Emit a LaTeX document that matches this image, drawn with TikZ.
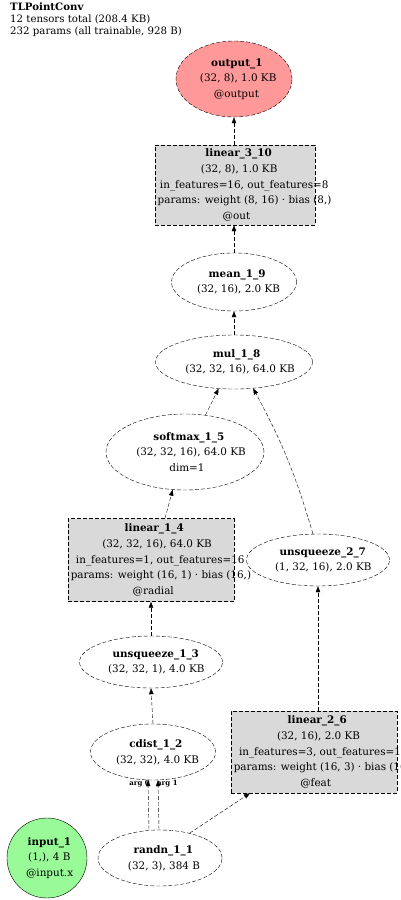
\documentclass[tikz,border=0pt]{standalone}
\usepackage{fontspec}
\setmainfont{DejaVu Serif}
\usetikzlibrary{arrows.meta,shapes.geometric}
\definecolor{outred}{RGB}{255,153,153}
\definecolor{ingreen}{RGB}{152,251,152}
\definecolor{boxgray}{RGB}{217,217,217}
\newcommand{\gvl}[1]{\sbox0{#1}\makebox[0.89\wd0][l]{#1}}
\begin{document}
\begin{tikzpicture}[x=1pt,y=-1pt,
  nf/.style={font=\fontsize{10.4}{15.7}\selectfont},
  opnode/.style={ellipse, draw, dash pattern=on 4pt off 2pt, inner sep=0pt, align=center, nf},
  boxnode/.style={rectangle, draw, dash pattern=on 4pt off 2pt, fill=boxgray, inner sep=0pt},
  boxtext/.style={align=center, inner sep=0pt, nf},
  edge/.style={draw, dash pattern=on 4pt off 2pt, -{Triangle[length=6pt,width=4.5pt]}},
  arglab/.style={font=\fontsize{7}{7}\selectfont\bfseries, inner sep=0pt}
]
\useasboundingbox (0,0) rectangle (400,900);

% title
\node[anchor=north west, align=left, inner sep=0pt, font=\fontsize{10.2}{12}\selectfont] (title) at (10,3)
  {\textbf{TLPointConv}\\12 tensors total (208.4 KB)\\232 params (all trainable, 928 B)};

% nodes
\node[opnode, fill=outred, minimum width=116pt, minimum height=76pt] (out) at (234,79)
  {\gvl{\textbf{output\_1}}\\\gvl{(32, 8), 1.0 KB}\\\gvl{@output}};

\node[boxnode, minimum width=160pt, minimum height=80pt] (l310) at (235,185) {};
\node[boxtext] (l310t) at (235,185)
  {\gvl{\textbf{linear\_3\_10}}\\\gvl{(32, 8), 1.0 KB}\\\gvl{in\_features=16, out\_features=8}\\\gvl{params: weight (8, 16) · bias (8,)}\\\gvl{@out}};

\node[opnode, minimum width=125pt, minimum height=58pt] (mean) at (234,282)
  {\gvl{\textbf{mean\_1\_9}}\\\gvl{(32, 16), 2.0 KB}};

\node[opnode, minimum width=157pt, minimum height=54pt] (mul) at (234,362)
  {\gvl{\textbf{mul\_1\_8}}\\\gvl{(32, 32, 16), 64.0 KB}};

\node[opnode, minimum width=158pt, minimum height=76pt] (sm) at (185,452)
  {\gvl{\textbf{softmax\_1\_5}}\\\gvl{(32, 32, 16), 64.0 KB}\\\gvl{dim=1}};

\node[boxnode, minimum width=166pt, minimum height=83pt] (l14) at (151,560) {};
\node[boxtext] (l14t) at (151,560)
  {\gvl{\textbf{linear\_1\_4}}\\\gvl{(32, 32, 16), 64.0 KB}\\\gvl{in\_features=1, out\_features=16}\\\gvl{params: weight (16, 1) · bias (16,)}\\\gvl{@radial}};

\node[opnode, minimum width=143pt, minimum height=52pt] (u27) at (318,560)
  {\gvl{\textbf{unsqueeze\_2\_7}}\\\gvl{(1, 32, 16), 2.0 KB}};

\node[opnode, minimum width=143pt, minimum height=52pt] (u13) at (151,662)
  {\gvl{\textbf{unsqueeze\_1\_3}}\\\gvl{(32, 32, 1), 4.0 KB}};

\node[opnode, minimum width=125pt, minimum height=56pt] (cd) at (153,752)
  {\gvl{\textbf{cdist\_1\_2}}\\\gvl{(32, 32), 4.0 KB}};

\node[boxnode, minimum width=166pt, minimum height=82pt] (l26) at (314,752) {};
\node[boxtext] (l26t) at (314,752)
  {\gvl{\textbf{linear\_2\_6}}\\\gvl{(32, 16), 2.0 KB}\\\gvl{in\_features=3, out\_features=16}\\\gvl{params: weight (16, 3) · bias (16,)}\\\gvl{@feat}};

\node[circle, draw, fill=ingreen, minimum size=80pt, inner sep=0pt, align=center, nf] (in) at (47,858)
  {\gvl{\textbf{input\_1}}\\\gvl{(1,), 4 B}\\\gvl{@input.x}};

\node[opnode, minimum width=124pt, minimum height=56pt] (rn) at (160,858)
  {\gvl{\textbf{randn\_1\_1}}\\\gvl{(32, 3), 384 B}};

% edges
\draw[edge] (l310.north -| out.south) -- (out.south);
\draw[edge] (mean.north) -- (l310.south -| mean.north);
\draw[edge] (mul.north) -- (mean.south);
\draw[edge] (sm.61) -- (mul.240);
\draw[edge] (u27.101) to[bend right=6] (mul.306);
\draw[edge] ([xshift=14pt]l14.north) -- (sm.252);
\draw[edge] (u13.north) -- (l14.south -| u13.north);
\draw[edge] (cd.north) -- (u13.south);
\draw[edge] (u27.south |- l26.north) -- (u27.south);
\draw[edge] ([xshift=-11pt]rn.north) -- coordinate[pos=1] (a0) ([xshift=-5pt]cd.south);
\draw[edge] ([xshift=-1pt]rn.north) -- coordinate[pos=1] (a1) ([xshift=5pt]cd.south);
\draw[edge] (rn.40) -- ([xshift=-64pt]l26.south);
\node[arglab, anchor=east] (a0l) at ([xshift=2pt,yshift=-3pt]a0) {arg 0};
\node[arglab, anchor=west] (a1l) at ([xshift=-1pt,yshift=-3pt]a1) {arg 1};
\end{tikzpicture}
\end{document}
